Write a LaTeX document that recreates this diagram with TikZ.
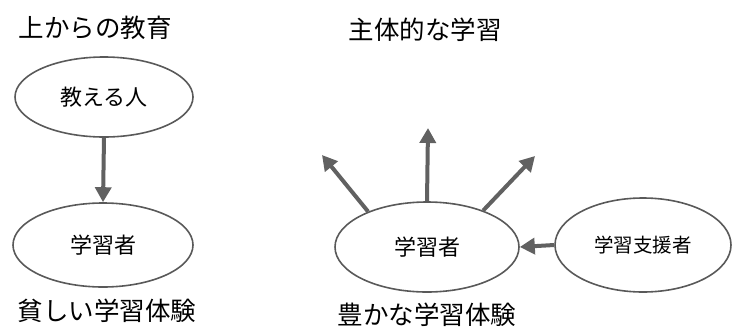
\documentclass[tikz,border=0pt]{standalone}
\usepackage{fontspec}
\setmainfont{Noto Sans CJK JP}
\usetikzlibrary{arrows.meta,shapes.geometric}
\begin{document}
\begin{tikzpicture}[x=1pt,y=-1pt,
  ell/.style={draw=black!65,line width=1.6pt,ellipse,inner sep=0pt,font=\fontsize{22}{26}\selectfont},
  title/.style={font=\fontsize{25.5}{30}\selectfont,inner sep=0pt},
  flow/.style={draw=black!62,line width=4pt,-{Triangle[length=15pt,width=16pt]}}]
\useasboundingbox (0,0) rectangle (733,335);
% left
\node[title] (t1) at (95,28) {上からの教育};
\node[ell,minimum width=178pt,minimum height=80pt] (teach) at (104,97) {教える人};
\node[ell,minimum width=180pt,minimum height=84pt] (learnL) at (103,245) {学習者};
\draw[flow] (teach.south) -- (learnL.north);
\node[title] (c1) at (107,311) {貧しい学習体験};
% right
\node[title] (t2) at (425,30) {主体的な学習};
\node[ell,minimum width=184pt,minimum height=90pt] (learnR) at (427,247) {学習者};
\node[ell,minimum width=176pt,minimum height=94pt,font=\fontsize{19.5}{23}\selectfont] (sup) at (643,245) {学習支援者};
\draw[flow] (sup.west) -- (learnR.east);
\coordinate (e1) at (322,155);
\coordinate (e2) at (428,128);
\coordinate (e3) at (535,156);
\draw[flow] (learnR.149) -- (e1);
\draw[flow] (learnR.north) -- (e2);
\draw[flow] (learnR.33) -- (e3);
\node[title] (c2) at (427,315) {豊かな学習体験};
\end{tikzpicture}
\end{document}
